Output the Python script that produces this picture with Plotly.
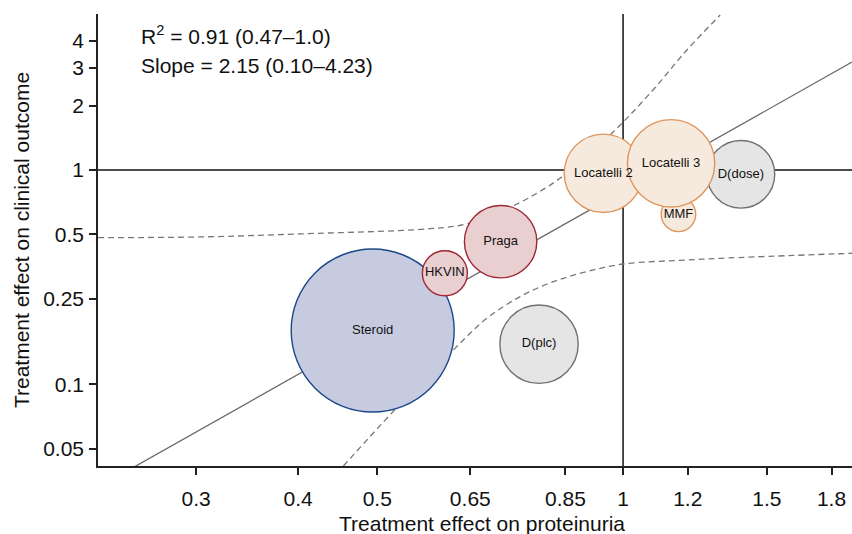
import math
import plotly.graph_objects as go

# ---------------- data ----------------
studies = ["Steroid", "D(plc)", "HKVIN", "Praga", "D(dose)", "MMF", "Locatelli 2", "Locatelli 3"]
proteinuria_effect = [0.4936, 0.789, 0.605, 0.708, 1.394, 1.169, 0.946, 1.145]
clinical_effect = [0.178, 0.1537, 0.3296, 0.463, 0.955, 0.621, 0.965, 1.075]
weights = [44.6, 10.3, 3.4, 8.8, 7.7, 2.0, 10.3, 12.8]
groups = ["steroid", "dapa", "red", "red", "dapa", "orange", "orange", "orange"]

slope = 2.15
effect_at_one = 0.796  # fitted clinical effect at proteinuria effect = 1

upper_band_x = [0.2275, 0.3033, 0.402, 0.580, 0.643, 0.733, 0.837, 0.973, 1.088, 1.197, 1.315]
upper_band_y = [0.483, 0.487, 0.503, 0.532, 0.560, 0.679, 0.915, 1.509, 2.363, 3.631, 5.29]
lower_band_x = [0.4544, 0.523, 0.6197, 0.681, 0.748, 0.8215, 0.9027, 1.0, 1.197, 1.315, 1.907]
lower_band_y = [0.0415, 0.0745, 0.1445, 0.203, 0.2563, 0.301, 0.3353, 0.364, 0.380, 0.387, 0.4086]

x_ticks = [0.3, 0.4, 0.5, 0.65, 0.85, 1, 1.2, 1.5, 1.8]
x_tick_labels = ["0.3", "0.4", "0.5", "0.65", "0.85", "1", "1.2", "1.5", "1.8"]
y_ticks = [0.05, 0.1, 0.25, 0.5, 1, 2, 3, 4]
y_tick_labels = ["0.05", "0.1", "0.25", "0.5", "1", "2", "3", "4"]

x_range = [0.2275, 1.907]
y_range = [0.0415, 5.35]

# ---------------- styles ----------------
fill = {"steroid": "#c6cbe0", "dapa": "#e5e5e5", "red": "#eacfd1", "orange": "#f6e9dd"}
edge = {"steroid": "#1b4888", "dapa": "#707070", "red": "#9d2834", "orange": "#e0955c"}
FONT = "Liberation Sans, Arial, Helvetica, sans-serif"
FS = 21
TXT = "#111111"

fig = go.Figure()

# regression line
reg_x = list(x_range)
reg_y = [effect_at_one * v ** slope for v in reg_x]
fig.add_trace(go.Scatter(x=reg_x, y=reg_y, mode="lines",
                         line=dict(color="#6a6a6a", width=1.3), hoverinfo="skip"))
# confidence bands
for bx, by in ((upper_band_x, upper_band_y), (lower_band_x, lower_band_y)):
    fig.add_trace(go.Scatter(x=bx, y=by, mode="lines",
                             line=dict(color="#777777", width=1.3, dash="6px,4px", shape="spline"),
                             hoverinfo="skip"))

# bubbles (largest bubble ~164 px across)
sizeref = 2 * max(weights) / (163 ** 2)
fig.add_trace(go.Scatter(
    x=proteinuria_effect, y=clinical_effect, mode="markers+text",
    text=studies, textposition="middle center",
    textfont=dict(family=FONT, size=13, color=TXT),
    marker=dict(size=weights, sizemode="area", sizeref=sizeref,
                color=[fill[g] for g in groups],
                line=dict(color=[edge[g] for g in groups], width=1.4),
                opacity=1),
    cliponaxis=False,
))

# reference lines at 1
fig.add_shape(type="line", xref="x", yref="paper", x0=1, x1=1, y0=0, y1=1,
              line=dict(color="#111111", width=1.5), layer="below")
fig.add_shape(type="line", xref="paper", yref="y", x0=0, x1=1, y0=1, y1=1,
              line=dict(color="#111111", width=1.5), layer="below")

fig.add_annotation(xref="paper", yref="paper", x=0.054, y=0.9535, xanchor="left", yanchor="middle",
                   text="R<sup>2</sup> = 0.91 (0.47–1.0)", showarrow=False,
                   font=dict(family=FONT, size=FS, color=TXT))
fig.add_annotation(xref="paper", yref="paper", x=0.054, y=0.887, xanchor="left", yanchor="middle",
                   text="Slope = 2.15 (0.10–4.23)", showarrow=False,
                   font=dict(family=FONT, size=FS, color=TXT))
# x-axis title
fig.add_annotation(xref="paper", yref="paper", x=0.509, y=-0.128, xanchor="center", yanchor="middle",
                   text="Treatment effect on proteinuria", showarrow=False,
                   font=dict(family=FONT, size=FS, color=TXT))

axis_common = dict(showgrid=False, zeroline=False, showline=True, linecolor="#222222", linewidth=1.5,
                   ticks="outside", ticklen=7, tickwidth=1.5, tickcolor="#222222", automargin=False,
                   tickfont=dict(family=FONT, size=FS, color=TXT))

fig.update_layout(
    width=852, height=534,
    margin=dict(l=98, r=0, t=14, b=68),
    paper_bgcolor="white", plot_bgcolor="white",
    showlegend=False,
    hovermode=False,
    xaxis=dict(type="log", range=[math.log10(x_range[0]), math.log10(x_range[1])],
               tickmode="array", tickvals=x_ticks, ticktext=x_tick_labels,
               ticklabelstandoff=6,
               **axis_common),
    yaxis=dict(type="log", range=[math.log10(y_range[0]), math.log10(y_range[1])],
               tickmode="array", tickvals=y_ticks, ticktext=y_tick_labels,
               ticklabelstandoff=1,
               title=dict(text="Treatment effect on clinical outcome", standoff=8,
                          font=dict(family=FONT, size=FS, color=TXT)),
               **axis_common),
)

fig.write_html("out.html", config={"displayModeBar": False},
               post_script="document.body.style.margin='0';document.body.style.overflow='hidden';")
